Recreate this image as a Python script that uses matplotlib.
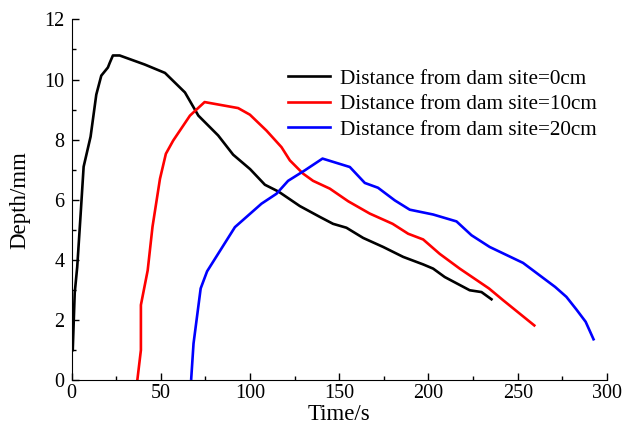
import matplotlib.pyplot as plt
from matplotlib.ticker import MultipleLocator

plt.rcParams['font.family'] = ['Liberation Serif', 'DejaVu Serif']

# distance from dam site = 0 cm
t0 = [0.6, 1.7, 3.1, 5.0, 6.7, 10.6, 13.8, 16.6, 20.3, 21.3, 23.1, 26.9, 40.9, 52.3,
      63.5, 71.0, 82.1, 90.5, 100.0, 108.3, 116.0, 127.9, 139.1, 146.5, 154.0, 163.4,
      174.6, 185.8, 197.0, 202.6, 209.1, 223.1, 229.7, 235.3]
d0 = [1.0, 2.9, 3.76, 5.5, 7.1, 8.1, 9.5, 10.13, 10.4, 10.55, 10.8, 10.8, 10.5, 10.22,
      9.57, 8.8, 8.14, 7.5, 7.02, 6.5, 6.27, 5.79, 5.43, 5.2, 5.07, 4.73,
      4.43, 4.1, 3.85, 3.71, 3.43, 2.99, 2.93, 2.69]

# distance from dam site = 10 cm
t10 = [36.8, 38.8, 38.8, 42.6, 45.3, 49.5, 52.8, 56.9, 66.3, 74.5, 93.3, 99.9, 109.2,
       117.6, 122.3, 129.7, 135.3, 144.7, 155.0, 167.1, 179.9, 188.6, 197.0, 206.3,
       217.5, 233.9, 241.8, 259.3]
d10 = [0.0, 1.0, 2.5, 3.65, 5.1, 6.7, 7.53, 7.97, 8.8, 9.25, 9.05, 8.83, 8.3,
       7.75, 7.31, 6.87, 6.63, 6.37, 5.95, 5.54, 5.2, 4.87, 4.68, 4.2,
       3.71, 3.05, 2.66, 1.82]

# distance from dam site = 20 cm
t20 = [67.0, 68.3, 72.3, 75.9, 91.5, 106.4, 114.8, 121.3, 130.7, 140.6, 155.9, 164.3,
       171.7, 181.1, 189.5, 202.6, 215.7, 224.1, 234.3, 253.0, 271.0, 277.3, 282.9,
       288.1, 292.5]
d20 = [0.05, 1.22, 3.05, 3.62, 5.09, 5.87, 6.2, 6.63, 6.98, 7.37, 7.09, 6.56,
       6.4, 5.98, 5.67, 5.51, 5.28, 4.82, 4.43, 3.9, 3.1, 2.77, 2.35,
       1.94, 1.36]

labels = ['Distance from dam site=0cm', 'Distance from dam site=10cm',
          'Distance from dam site=20cm']

fig = plt.figure(figsize=(6.26, 4.41), dpi=100)
ax = fig.add_axes([0.1145, 0.138, 0.855, 0.818])

ax.plot(t0, d0, color='black', lw=1.9, label=labels[0])
ax.plot(t10, d10, color='#ff0000', lw=1.9, label=labels[1])
ax.plot(t20, d20, color='#0000ff', lw=1.9, label=labels[2])

ax.set_xlim(0, 300)
ax.set_ylim(0, 12)
ax.xaxis.set_major_locator(MultipleLocator(50))
ax.xaxis.set_minor_locator(MultipleLocator(25))
ax.yaxis.set_major_locator(MultipleLocator(2))
ax.yaxis.set_minor_locator(MultipleLocator(1))
ax.tick_params(which='both', direction='in', labelsize=14.5, width=1)
ax.tick_params(which='major', length=5, pad=3)
ax.tick_params(axis='y', which='major', pad=5)
ax.tick_params(which='minor', length=3)
ax.spines['top'].set_visible(False)
ax.spines['right'].set_visible(False)

ax.set_xlabel('Time/s', fontsize=16.5, labelpad=0.5)
ax.set_ylabel('Depth/mm', fontsize=16.5, labelpad=10)

ax.legend(loc='upper right', bbox_to_anchor=(0.997, 0.887), frameon=False,
          fontsize=15.3, handlelength=2.0, handletextpad=0.45, labelspacing=0.27,
          borderaxespad=0)

fig.savefig('out.png', dpi=100)
